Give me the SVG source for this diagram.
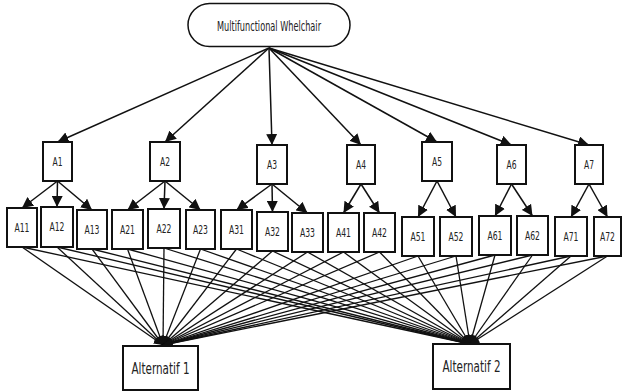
<svg xmlns="http://www.w3.org/2000/svg" width="622" height="392" viewBox="0 0 622 392">
<style>
.box{fill:#fff;stroke:#111;stroke-width:2}
.top{fill:#fff;stroke:#111;stroke-width:1.5}
.t{font-family:"DejaVu Sans Condensed","Liberation Sans Narrow","Liberation Sans",sans-serif;font-size:12.5px;fill:#222;text-anchor:middle}
.tb{font-size:15px}
.c line{stroke:#111;stroke-width:1.5;marker-end:url(#ah)}
.c2 line{stroke:#111;stroke-width:1.3;marker-end:url(#ah2)}
</style>
<defs>
<marker id="ah" markerUnits="userSpaceOnUse" markerWidth="11" markerHeight="11" viewBox="0 0 10 10" refX="10" refY="5" orient="auto"><path d="M0,0 L10,5 L0,10 z" fill="#111"/></marker>
<marker id="ah2" markerUnits="userSpaceOnUse" markerWidth="9" markerHeight="9" viewBox="0 0 10 10" refX="10" refY="5" orient="auto"><path d="M0,0 L10,5 L0,10 z" fill="#111"/></marker>
</defs>
<rect width="622" height="392" fill="#fff"/>
<g id="connectors">
<g class="c">
<line x1="269" y1="48" x2="57.5" y2="142"/>
<line x1="269" y1="48" x2="165" y2="142"/>
<line x1="269" y1="48" x2="272" y2="145"/>
<line x1="269" y1="48" x2="361" y2="145"/>
<line x1="269" y1="48" x2="437" y2="142"/>
<line x1="269" y1="48" x2="511.5" y2="145"/>
<line x1="269" y1="48" x2="589" y2="145"/>
<line x1="57.5" y1="181" x2="22" y2="208"/>
<line x1="57.5" y1="181" x2="57" y2="207"/>
<line x1="57.5" y1="181" x2="92" y2="210"/>
<line x1="165" y1="181" x2="127.5" y2="210"/>
<line x1="165" y1="181" x2="164" y2="209"/>
<line x1="165" y1="181" x2="200.5" y2="210"/>
<line x1="272" y1="184" x2="236.5" y2="210"/>
<line x1="272" y1="184" x2="272.5" y2="212"/>
<line x1="272" y1="184" x2="307.5" y2="213"/>
<line x1="361" y1="184" x2="343.5" y2="213"/>
<line x1="361" y1="184" x2="379.5" y2="213"/>
<line x1="437" y1="181" x2="418" y2="217"/>
<line x1="437" y1="181" x2="456" y2="217"/>
<line x1="511.5" y1="184" x2="495" y2="216"/>
<line x1="511.5" y1="184" x2="532.5" y2="216"/>
<line x1="589" y1="184" x2="571" y2="217"/>
<line x1="589" y1="184" x2="607.5" y2="217"/>
</g>
<g class="c2">
<line x1="22" y1="247" x2="163" y2="345"/>
<line x1="57" y1="247" x2="163" y2="345"/>
<line x1="92" y1="249" x2="163" y2="345"/>
<line x1="127.5" y1="249" x2="163" y2="345"/>
<line x1="164" y1="248" x2="163" y2="345"/>
<line x1="200.5" y1="249" x2="163" y2="345"/>
<line x1="236.5" y1="249" x2="163" y2="345"/>
<line x1="272.5" y1="251" x2="163" y2="345"/>
<line x1="307.5" y1="252" x2="163" y2="345"/>
<line x1="343.5" y1="252" x2="163" y2="345"/>
<line x1="379.5" y1="252" x2="163" y2="345"/>
<line x1="418" y1="256" x2="163" y2="345"/>
<line x1="456" y1="256" x2="163" y2="345"/>
<line x1="495" y1="255" x2="163" y2="345"/>
<line x1="532.5" y1="255" x2="163" y2="345"/>
<line x1="571" y1="256" x2="163" y2="345"/>
<line x1="607.5" y1="256" x2="163" y2="345"/>
<line x1="22" y1="247" x2="470" y2="344"/>
<line x1="57" y1="247" x2="470" y2="344"/>
<line x1="92" y1="249" x2="470" y2="344"/>
<line x1="127.5" y1="249" x2="470" y2="344"/>
<line x1="164" y1="248" x2="470" y2="344"/>
<line x1="200.5" y1="249" x2="470" y2="344"/>
<line x1="236.5" y1="249" x2="470" y2="344"/>
<line x1="272.5" y1="251" x2="470" y2="344"/>
<line x1="307.5" y1="252" x2="470" y2="344"/>
<line x1="343.5" y1="252" x2="470" y2="344"/>
<line x1="379.5" y1="252" x2="470" y2="344"/>
<line x1="418" y1="256" x2="470" y2="344"/>
<line x1="456" y1="256" x2="470" y2="344"/>
<line x1="495" y1="255" x2="470" y2="344"/>
<line x1="532.5" y1="255" x2="470" y2="344"/>
<line x1="571" y1="256" x2="470" y2="344"/>
<line x1="607.5" y1="256" x2="470" y2="344"/>
</g>
</g>
<g id="goal"><rect class="top" x="188" y="3.5" width="162" height="43" rx="21.5"/><text class="t" x="269" y="31" style="font-size:14.5px" textLength="104" lengthAdjust="spacingAndGlyphs">Multifunctional Whelchair</text></g>
<g id="A1"><rect class="box" x="43" y="142" width="29" height="39"/><text class="t" x="57.5" y="166" textLength="10" lengthAdjust="spacingAndGlyphs">A1</text></g>
<g id="A2"><rect class="box" x="150" y="142" width="30" height="39"/><text class="t" x="165" y="166" textLength="10" lengthAdjust="spacingAndGlyphs">A2</text></g>
<g id="A3"><rect class="box" x="257" y="145" width="30" height="39"/><text class="t" x="272" y="169" textLength="10" lengthAdjust="spacingAndGlyphs">A3</text></g>
<g id="A4"><rect class="box" x="347" y="145" width="28" height="39"/><text class="t" x="361" y="169" textLength="10" lengthAdjust="spacingAndGlyphs">A4</text></g>
<g id="A5"><rect class="box" x="422" y="142" width="30" height="39"/><text class="t" x="437" y="166" textLength="10" lengthAdjust="spacingAndGlyphs">A5</text></g>
<g id="A6"><rect class="box" x="497" y="145" width="29" height="39"/><text class="t" x="511.5" y="169" textLength="10" lengthAdjust="spacingAndGlyphs">A6</text></g>
<g id="A7"><rect class="box" x="575" y="145" width="28" height="39"/><text class="t" x="589" y="169" textLength="10" lengthAdjust="spacingAndGlyphs">A7</text></g>
<g id="A11"><rect class="box" x="7" y="208" width="30" height="39"/><text class="t" x="22" y="232" textLength="15" lengthAdjust="spacingAndGlyphs">A11</text></g>
<g id="A12"><rect class="box" x="41" y="207" width="32" height="40"/><text class="t" x="57" y="231" textLength="15" lengthAdjust="spacingAndGlyphs">A12</text></g>
<g id="A13"><rect class="box" x="77" y="210" width="30" height="39"/><text class="t" x="92" y="234" textLength="15" lengthAdjust="spacingAndGlyphs">A13</text></g>
<g id="A21"><rect class="box" x="112" y="210" width="31" height="39"/><text class="t" x="127.5" y="234" textLength="15" lengthAdjust="spacingAndGlyphs">A21</text></g>
<g id="A22"><rect class="box" x="148" y="209" width="32" height="39"/><text class="t" x="164" y="233" textLength="15" lengthAdjust="spacingAndGlyphs">A22</text></g>
<g id="A23"><rect class="box" x="186" y="210" width="29" height="39"/><text class="t" x="200.5" y="234" textLength="15" lengthAdjust="spacingAndGlyphs">A23</text></g>
<g id="A31"><rect class="box" x="221" y="210" width="31" height="39"/><text class="t" x="236.5" y="234" textLength="15" lengthAdjust="spacingAndGlyphs">A31</text></g>
<g id="A32"><rect class="box" x="257" y="212" width="31" height="39"/><text class="t" x="272.5" y="236" textLength="15" lengthAdjust="spacingAndGlyphs">A32</text></g>
<g id="A33"><rect class="box" x="292" y="213" width="31" height="39"/><text class="t" x="307.5" y="237" textLength="15" lengthAdjust="spacingAndGlyphs">A33</text></g>
<g id="A41"><rect class="box" x="328" y="213" width="31" height="39"/><text class="t" x="343.5" y="237" textLength="15" lengthAdjust="spacingAndGlyphs">A41</text></g>
<g id="A42"><rect class="box" x="364" y="213" width="31" height="39"/><text class="t" x="379.5" y="237" textLength="15" lengthAdjust="spacingAndGlyphs">A42</text></g>
<g id="A51"><rect class="box" x="402" y="217" width="32" height="39"/><text class="t" x="418" y="241" textLength="15" lengthAdjust="spacingAndGlyphs">A51</text></g>
<g id="A52"><rect class="box" x="440" y="217" width="32" height="39"/><text class="t" x="456" y="241" textLength="15" lengthAdjust="spacingAndGlyphs">A52</text></g>
<g id="A61"><rect class="box" x="479" y="216" width="32" height="39"/><text class="t" x="495" y="240" textLength="15" lengthAdjust="spacingAndGlyphs">A61</text></g>
<g id="A62"><rect class="box" x="517" y="216" width="31" height="39"/><text class="t" x="532.5" y="240" textLength="15" lengthAdjust="spacingAndGlyphs">A62</text></g>
<g id="A71"><rect class="box" x="555" y="217" width="32" height="39"/><text class="t" x="571" y="241" textLength="15" lengthAdjust="spacingAndGlyphs">A71</text></g>
<g id="A72"><rect class="box" x="594" y="217" width="27" height="39"/><text class="t" x="607.5" y="241" textLength="15" lengthAdjust="spacingAndGlyphs">A72</text></g>
<g id="Alt1"><rect class="box" x="123" y="346" width="75" height="44"/><text class="t tb" x="160.5" y="373.5" textLength="58" lengthAdjust="spacingAndGlyphs">Alternatif 1</text></g>
<g id="Alt2"><rect class="box" x="433" y="344" width="77" height="45"/><text class="t tb" x="471.5" y="371.5" textLength="58" lengthAdjust="spacingAndGlyphs">Alternatif 2</text></g>
</svg>
